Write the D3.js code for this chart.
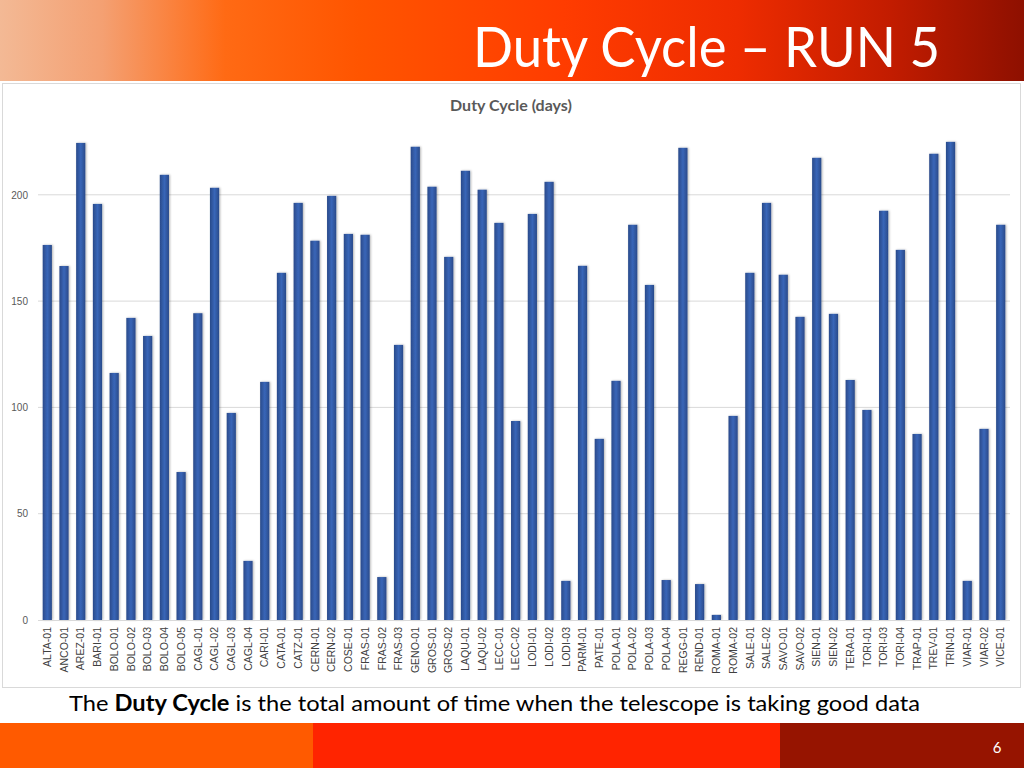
<!DOCTYPE html>
<html>
<head>
<meta charset="utf-8">
<script src="https://cdn.jsdelivr.net/npm/d3@7"></script>
<style>
  body { margin: 0; background: #fff; }
  svg { display: block; }
</style>
</head>
<body>
<script>
// stations, in the order shown on the x axis
var stations = ["ALTA-01", "ANCO-01", "AREZ-01", "BARI-01", "BOLO-01", "BOLO-02", "BOLO-03", "BOLO-04",
  "BOLO-05", "CAGL-01", "CAGL-02", "CAGL-03", "CAGL-04", "CARI-01", "CATA-01", "CATZ-01", "CERN-01",
  "CERN-02", "COSE-01", "FRAS-01", "FRAS-02", "FRAS-03", "GENO-01", "GROS-01", "GROS-02", "LAQU-01",
  "LAQU-02", "LECC-01", "LECC-02", "LODI-01", "LODI-02", "LODI-03", "PARM-01", "PATE-01", "POLA-01",
  "POLA-02", "POLA-03", "POLA-04", "REGG-01", "REND-01", "ROMA-01", "ROMA-02", "SALE-01", "SALE-02",
  "SAVO-01", "SAVO-02", "SIEN-01", "SIEN-02", "TERA-01", "TORI-01", "TORI-03", "TORI-04", "TRAP-01",
  "TREV-01", "TRIN-01", "VIAR-01", "VIAR-02", "VICE-01"];

// duty cycle in days
var dutyDays = [176.4, 166.5, 224.4, 195.7, 116.2, 142.1, 133.6, 209.4,
  69.6, 144.3, 203.3, 97.4, 27.8, 112.0, 163.3, 196.2, 178.4,
  199.5, 181.6, 181.2, 20.2, 129.4, 222.6, 203.8, 170.8, 211.3,
  202.4, 186.8, 93.6, 191.0, 206.1, 18.4, 166.6, 85.2, 112.5,
  185.9, 157.6, 18.8, 222.1, 16.9, 2.4, 96.0, 163.3, 196.2,
  162.4, 142.6, 217.4, 144.0, 112.9, 98.8, 192.5, 174.1, 87.5,
  219.3, 224.9, 18.4, 89.9, 185.9];

var yTicks = [0, 50, 100, 150, 200];

var W = 1024, H = 768;

var svg = d3.select("body").append("svg")
    .attr("width", W)
    .attr("height", H);

var defs = svg.append("defs");

// header gradient, peach -> orange -> dark red
var hg = defs.append("linearGradient").attr("id", "hdr")
    .attr("x1", "0%").attr("x2", "100%").attr("y1", "0%").attr("y2", "0%");
[["0%", "#f3b995"], ["10%", "#f4a072"], ["22%", "#ff6a14"], ["35%", "#ff5500"],
 ["55%", "#ff3c00"], ["72%", "#ee2c00"], ["87%", "#c21c00"], ["100%", "#8e1000"]]
  .forEach(function(s) { hg.append("stop").attr("offset", s[0]).attr("stop-color", s[1]); });

// bar shading
var bg = defs.append("linearGradient").attr("id", "bar")
    .attr("x1", "0%").attr("x2", "100%").attr("y1", "0%").attr("y2", "0%");
[["0%", "#2a4a8a"], ["50%", "#3966b8"], ["100%", "#2a4a8a"]]
  .forEach(function(s) { bg.append("stop").attr("offset", s[0]).attr("stop-color", s[1]); });

var sh = defs.append("filter").attr("id", "shadow")
    .attr("x", "-50%").attr("y", "-5%").attr("width", "200%").attr("height", "110%");
sh.append("feDropShadow").attr("dx", 1).attr("dy", 0).attr("stdDeviation", 1.2)
    .attr("flood-color", "#000").attr("flood-opacity", 0.3);

// ---------------- header ----------------
svg.append("rect").attr("x", 0).attr("y", 0).attr("width", W).attr("height", 81)
    .attr("fill", "url(#hdr)");

svg.append("text")
    .attr("x", 473).attr("y", 67)
    .attr("font-family", "Lato, 'Open Sans', sans-serif")
    .attr("font-size", 56)
    .attr("fill", "#fff")
    .attr("textLength", 467)
    .attr("lengthAdjust", "spacingAndGlyphs")
    .text("Duty Cycle \u2013 RUN 5");

// ---------------- chart panel ----------------
svg.append("rect").attr("x", 2.5).attr("y", 83.5).attr("width", 1018).attr("height", 604)
    .attr("fill", "#fff").attr("stroke", "#d9d9d9");

svg.append("text")
    .attr("x", 511).attr("y", 111)
    .attr("text-anchor", "middle")
    .attr("font-family", "Lato, 'Open Sans', sans-serif")
    .attr("font-weight", "bold")
    .attr("font-size", 16)
    .attr("fill", "#595959")
    .text("Duty Cycle (days)");

var x = d3.scaleBand()
    .domain(stations)
    .range([38, 1010])
    .paddingInner(0.45)
    .paddingOuter(0.28);

var y = d3.scaleLinear()
    .domain([0, 200])
    .range([620, 194.8]);

// gridlines
svg.append("g")
    .selectAll("line")
    .data(yTicks.slice(1))
    .enter().append("line")
    .attr("x1", 38).attr("x2", 1010)
    .attr("y1", function(d) { return y(d); })
    .attr("y2", function(d) { return y(d); })
    .attr("stroke", "#d9d9d9").attr("stroke-width", 1);

// y axis labels
var yAxis = d3.axisLeft(y).tickValues(yTicks).tickSize(0).tickPadding(0);
var yg = svg.append("g").attr("transform", "translate(28,0)").call(yAxis);
yg.select(".domain").remove();
yg.selectAll("text")
    .attr("font-family", "'Liberation Sans', Arial, sans-serif")
    .attr("font-size", 10)
    .attr("fill", "#595959");

// bars
svg.append("g")
    .selectAll("rect")
    .data(dutyDays)
    .enter().append("rect")
    .attr("x", function(d, i) { return x(stations[i]); })
    .attr("y", function(d) { return y(d); })
    .attr("width", x.bandwidth())
    .attr("height", function(d) { return y(0) - y(d); })
    .attr("fill", "url(#bar)")
    .attr("filter", "url(#shadow)");

// baseline
svg.append("line")
    .attr("x1", 38).attr("x2", 1010)
    .attr("y1", y(0) + 0.5).attr("y2", y(0) + 0.5)
    .attr("stroke", "#d9d9d9");

// x axis labels, rotated
var xAxis = d3.axisBottom(x).tickSize(0).tickPadding(0);
var xg = svg.append("g").attr("transform", "translate(0," + (y(0) + 7) + ")").call(xAxis);
xg.select(".domain").remove();
xg.selectAll("text")
    .attr("font-family", "'Liberation Sans', Arial, sans-serif")
    .attr("font-size", 10.5)
    .attr("fill", "#404040")
    .attr("text-anchor", "end")
    .attr("dy", "0.35em")
    .attr("y", 0)
    .attr("transform", "rotate(-90)");

// ---------------- caption ----------------
var cap = svg.append("text")
    .attr("x", 69).attr("y", 711)
    .attr("font-family", "Lato, 'Open Sans', sans-serif")
    .attr("font-size", 22)
    .attr("fill", "#000")
    .attr("textLength", 851)
    .attr("lengthAdjust", "spacingAndGlyphs");
cap.append("tspan").text("The ");
cap.append("tspan").attr("font-weight", "bold").text("Duty Cycle");
cap.append("tspan").text(" is the total amount of time when the telescope is taking good data");

// ---------------- footer ----------------
var footer = [[0, 313, "#ff5a00"], [313, 780, "#ff2400"], [780, 1024, "#961400"]];
svg.append("g").selectAll("rect")
    .data(footer)
    .enter().append("rect")
    .attr("x", function(d) { return d[0]; })
    .attr("y", 723)
    .attr("width", function(d) { return d[1] - d[0]; })
    .attr("height", 45)
    .attr("fill", function(d) { return d[2]; });

svg.append("text")
    .attr("x", 997).attr("y", 753)
    .attr("text-anchor", "middle")
    .attr("font-family", "Lato, 'Open Sans', sans-serif")
    .attr("font-size", 15)
    .attr("fill", "#fff")
    .text("6");
</script>
</body>
</html>
